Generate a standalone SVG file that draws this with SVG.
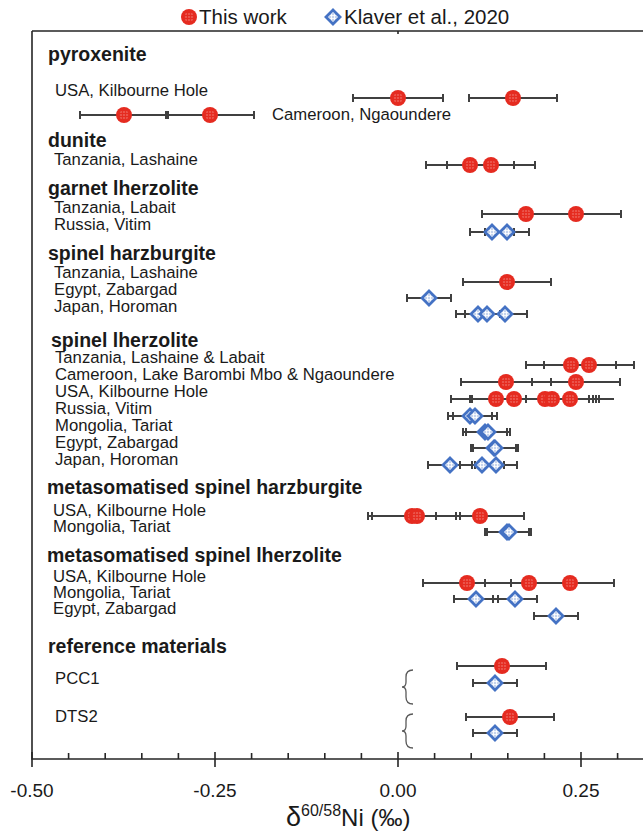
<svg xmlns="http://www.w3.org/2000/svg" xmlns:xlink="http://www.w3.org/1999/xlink" width="643" height="833" viewBox="0 0 643 833">
<style>
text{font-family:"Liberation Sans",Arial,sans-serif;fill:#1a1a1a}
.h{font-size:19.5px;font-weight:bold}
.l{font-size:16.7px}
.lg{font-size:20.5px}
.tk{font-size:19px}
.eb{stroke:#404040;stroke-width:2;fill:none}
.ax{stroke:#262626;stroke-width:1.6;fill:none}
.br{stroke:#595959;stroke-width:1.3;fill:none}
</style>
<defs>
<pattern id="rdots" width="3" height="3" patternUnits="userSpaceOnUse" x="-1.5" y="-1.5"><rect width="3" height="3" fill="#E52B20"/><circle cx="1.5" cy="1.5" r="0.6" fill="#ffffff" fill-opacity="0.85"/></pattern>
<pattern id="bdots" width="3" height="3" patternUnits="userSpaceOnUse" x="-1.5" y="-1.5"><rect width="3" height="3" fill="#ffffff"/><circle cx="1.5" cy="1.5" r="0.7" fill="#4472C4"/></pattern>
<g id="mr"><circle r="8" fill="#E52B20"/><circle r="5" fill="url(#rdots)"/></g>
<g id="mb"><path d="M0,-7 L7,0 L0,7 L-7,0Z" fill="url(#bdots)" stroke="#4472C4" stroke-width="2.8"/></g>
</defs>

<g id="legend">
<use href="#mr" x="189" y="17"/>
<text class="lg" x="199" y="24">This work</text>
<use href="#mb" x="333" y="17"/>
<text class="lg" x="344" y="24">Klaver et al., 2020</text>
</g>

<g id="axes">
<path class="ax" d="M32 31H643M32 31V759H643M398 31v3"/>
<path class="ax" d="M32 752v15M215 752v15M398 752v15M581 752v15"/>
<path class="ax" d="M68.6 753v6M105.2 753v6M141.8 753v6M178.4 753v6M251.6 753v6M288.2 753v6M324.8 753v6M361.4 753v6M434.6 753v6M471.2 753v6M507.8 753v6M544.4 753v6M617.6 753v6"/>
<text class="tk" x="32" y="797" text-anchor="middle">-0.50</text>
<text class="tk" x="215" y="797" text-anchor="middle">-0.25</text>
<text class="tk" x="398" y="797" text-anchor="middle">0.00</text>
<text class="tk" x="581" y="797" text-anchor="middle">0.25</text>
<text x="286" y="826"><tspan font-size="27px">δ</tspan><tspan font-size="16px" dy="-10">60/58</tspan><tspan font-size="24px" dy="10">Ni (‰)</tspan></text>
</g>

<g id="labels">
<text class="h" x="48" y="61">pyroxenite</text>
<text class="l" x="55" y="96">USA, Kilbourne Hole</text>
<text class="l" x="272" y="120">Cameroon, Ngaoundere</text>
<text class="h" x="48" y="147">dunite</text>
<text class="l" x="54" y="165">Tanzania, Lashaine</text>
<text class="h" x="48" y="195">garnet lherzolite</text>
<text class="l" x="54" y="213">Tanzania, Labait</text>
<text class="l" x="54" y="230">Russia, Vitim</text>
<text class="h" x="48" y="260">spinel harzburgite</text>
<text class="l" x="54" y="278">Tanzania, Lashaine</text>
<text class="l" x="54" y="295">Egypt, Zabargad</text>
<text class="l" x="54" y="312">Japan, Horoman</text>
<text class="h" x="51" y="347">spinel lherzolite</text>
<text class="l" x="55" y="363">Tanzania, Lashaine &amp; Labait</text>
<text class="l" x="55" y="380">Cameroon, Lake Barombi Mbo &amp; Ngaoundere</text>
<text class="l" x="55" y="397">USA, Kilbourne Hole</text>
<text class="l" x="55" y="414">Russia, Vitim</text>
<text class="l" x="55" y="431">Mongolia, Tariat</text>
<text class="l" x="55" y="448">Egypt, Zabargad</text>
<text class="l" x="55" y="465">Japan, Horoman</text>
<text class="h" x="47" y="494">metasomatised spinel harzburgite</text>
<text class="l" x="53" y="516">USA, Kilbourne Hole</text>
<text class="l" x="53" y="532">Mongolia, Tariat</text>
<text class="h" x="47" y="562">metasomatised spinel lherzolite</text>
<text class="l" x="53" y="582">USA, Kilbourne Hole</text>
<text class="l" x="53" y="598">Mongolia, Tariat</text>
<text class="l" x="53" y="614">Egypt, Zabargad</text>
<text class="h" x="48" y="653">reference materials</text>
<text class="l" x="55" y="684">PCC1</text>
<text class="l" x="55" y="722">DTS2</text>
</g>

<g id="braces">
<path class="br" d="M413,670 Q406,670 406,677 L406,682 Q406,687 402,687 Q406,687 406,692 L406,697 Q406,704 413,704"/>
<path class="br" d="M413,714 Q406,714 406,721 L406,726 Q406,731 402,731 Q406,731 406,736 L406,741 Q406,748 413,748"/>
</g>

<g id="errorbars">
<path class="eb" d="M353 98H443M353 94v8M443 94v8M469 98H557M469 94v8M557 94v8"/>
<path class="eb" d="M80 115H168M80 111v8M168 111v8M166 115H254M166 111v8M254 111v8"/>
<path class="eb" d="M426 165H514M426 161v8M514 161v8M447 165H535M447 161v8M535 161v8"/>
<path class="eb" d="M482 214H570M482 210v8M570 210v8M531 214H621M531 210v8M621 210v8"/>
<path class="eb" d="M470 232H514M470 228v8M514 228v8M485 232H529M485 228v8M529 228v8"/>
<path class="eb" d="M463 282H551M463 278v8M551 278v8"/>
<path class="eb" d="M407 298H451M407 294v8M451 294v8"/>
<path class="eb" d="M456 314H500M456 310v8M500 310v8M465 314H509M465 310v8M509 310v8M483 314H527M483 310v8M527 310v8"/>
<path class="eb" d="M526 365H616M526 361v8M616 361v8M544 365H634M544 361v8M634 361v8"/>
<path class="eb" d="M461 382H551M461 378v8M551 378v8M532 382H620M532 378v8M620 378v8"/>
<path class="eb" d="M451 399H614M451 395v8M541 395v8M470 395v8M558 395v8M472 395v8M589 395v8M508 395v8M593 395v8M526 395v8M596 395v8M599 395v8"/>
<path class="eb" d="M448 416H497M448 412v8M492 412v8M453 412v8M497 412v8"/>
<path class="eb" d="M463 432H510M463 428v8M507 428v8M466 428v8M510 428v8"/>
<path class="eb" d="M471 448H518M471 444v8M516 444v8M473 444v8M518 444v8"/>
<path class="eb" d="M428 465H517M428 461v8M472 461v8M460 461v8M504 461v8M475 461v8M517 461v8"/>
<path class="eb" d="M368 516H524M368 512v8M456 512v8M372 512v8M460 512v8M436 512v8M524 512v8"/>
<path class="eb" d="M485 532H531M485 528v8M529 528v8M487 528v8M531 528v8"/>
<path class="eb" d="M423 583H614M423 579v8M511 579v8M485 579v8M614 579v8"/>
<path class="eb" d="M454 599H537M454 595v8M498 595v8M493 595v8M537 595v8"/>
<path class="eb" d="M534 616H578M534 612v8M578 612v8"/>
<path class="eb" d="M457 666H546M457 662v8M546 662v8"/>
<path class="eb" d="M473 683H517M473 679v8M517 679v8"/>
<path class="eb" d="M466 717H554M466 713v8M554 713v8"/>
<path class="eb" d="M473 733H517M473 729v8M517 729v8"/>
</g>

<g id="markers">
<g id="pyroxenite"><use href="#mr" x="398" y="98"/><use href="#mr" x="513" y="98"/><use href="#mr" x="124" y="115"/><use href="#mr" x="210" y="115"/></g>
<g id="dunite"><use href="#mr" x="470" y="165"/><use href="#mr" x="491" y="165"/></g>
<g id="garnet-lherzolite"><use href="#mr" x="526" y="214"/><use href="#mr" x="576" y="214"/><use href="#mb" x="492" y="232"/><use href="#mb" x="507" y="232"/></g>
<g id="spinel-harzburgite"><use href="#mr" x="507" y="282"/><use href="#mb" x="429" y="298"/><use href="#mb" x="478" y="314"/><use href="#mb" x="487" y="314"/><use href="#mb" x="505" y="314"/></g>
<g id="spinel-lherzolite">
<use href="#mr" x="571" y="365"/><use href="#mr" x="589" y="365"/>
<use href="#mr" x="506" y="382"/><use href="#mr" x="576" y="382"/>
<use href="#mr" x="496" y="399"/><use href="#mr" x="514" y="399"/><use href="#mr" x="545" y="399"/><use href="#mr" x="552" y="399"/><use href="#mr" x="570" y="399"/>
<use href="#mb" x="470" y="416"/><use href="#mb" x="475" y="416"/>
<use href="#mb" x="485" y="432"/><use href="#mb" x="488" y="432"/>
<use href="#mb" x="494" y="448"/><use href="#mb" x="495" y="448"/>
<use href="#mb" x="450" y="465"/><use href="#mb" x="482" y="465"/><use href="#mb" x="496" y="465"/>
</g>
<g id="meta-harzburgite"><use href="#mr" x="412" y="516"/><use href="#mr" x="417" y="516"/><use href="#mr" x="480" y="516"/><use href="#mb" x="507" y="532"/><use href="#mb" x="509" y="532"/></g>
<g id="meta-lherzolite"><use href="#mr" x="467" y="583"/><use href="#mr" x="529" y="583"/><use href="#mr" x="570" y="583"/><use href="#mb" x="476" y="599"/><use href="#mb" x="515" y="599"/><use href="#mb" x="556" y="616"/></g>
<g id="reference"><use href="#mr" x="502" y="666"/><use href="#mb" x="495" y="683"/><use href="#mr" x="510" y="717"/><use href="#mb" x="495" y="733"/></g>
</g>
</svg>
